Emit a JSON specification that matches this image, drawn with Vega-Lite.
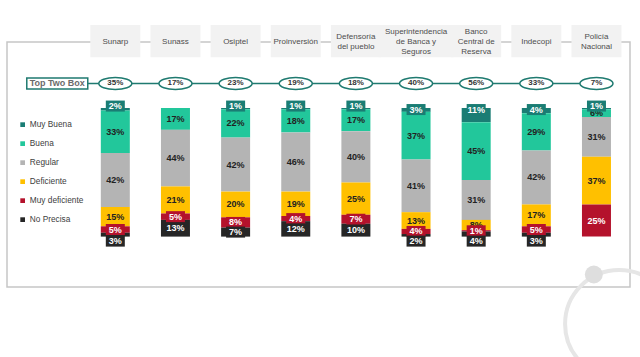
{
  "$schema": "https://vega.github.io/schema/vega-lite/v6.json",
  "width": 623,
  "height": 245,
  "autosize": {"type": "none"},
  "padding": {"left": 7, "top": 42, "right": 10, "bottom": 70},
  "background": "white",
  "config": {
    "view": {"stroke": "#c6c6c6", "strokeWidth": 1.5},
    "font": "Liberation Sans",
    "text": {"font": "Liberation Sans"}
  },
  "datasets": {
    "inst": [
      {"i": 0, "name": "Sunarp", "ttb": 35},
      {"i": 1, "name": "Sunass", "ttb": 17},
      {"i": 2, "name": "Osiptel", "ttb": 23},
      {"i": 3, "name": "Proinversión", "ttb": 19},
      {"i": 4, "name": "Defensoría\ndel pueblo", "ttb": 18},
      {"i": 5, "name": "Superintendencia\nde Banca y\nSeguros", "ttb": 40},
      {"i": 6, "name": "Banco\nCentral de\nReserva", "ttb": 56},
      {"i": 7, "name": "Indecopi", "ttb": 33},
      {"i": 8, "name": "Policía\nNacional", "ttb": 7}
    ],
    "seg": [
      {"i": 0, "cat": "Muy Buena", "v": 2}, {"i": 0, "cat": "Buena", "v": 33}, {"i": 0, "cat": "Regular", "v": 42}, {"i": 0, "cat": "Deficiente", "v": 15}, {"i": 0, "cat": "Muy deficiente", "v": 5}, {"i": 0, "cat": "No Precisa", "v": 3},
      {"i": 1, "cat": "Buena", "v": 17}, {"i": 1, "cat": "Regular", "v": 44}, {"i": 1, "cat": "Deficiente", "v": 21}, {"i": 1, "cat": "Muy deficiente", "v": 5}, {"i": 1, "cat": "No Precisa", "v": 13},
      {"i": 2, "cat": "Muy Buena", "v": 1}, {"i": 2, "cat": "Buena", "v": 22}, {"i": 2, "cat": "Regular", "v": 42}, {"i": 2, "cat": "Deficiente", "v": 20}, {"i": 2, "cat": "Muy deficiente", "v": 8}, {"i": 2, "cat": "No Precisa", "v": 7},
      {"i": 3, "cat": "Muy Buena", "v": 1}, {"i": 3, "cat": "Buena", "v": 18}, {"i": 3, "cat": "Regular", "v": 46}, {"i": 3, "cat": "Deficiente", "v": 19}, {"i": 3, "cat": "Muy deficiente", "v": 4}, {"i": 3, "cat": "No Precisa", "v": 12},
      {"i": 4, "cat": "Muy Buena", "v": 1}, {"i": 4, "cat": "Buena", "v": 17}, {"i": 4, "cat": "Regular", "v": 40}, {"i": 4, "cat": "Deficiente", "v": 25}, {"i": 4, "cat": "Muy deficiente", "v": 7}, {"i": 4, "cat": "No Precisa", "v": 10},
      {"i": 5, "cat": "Muy Buena", "v": 3}, {"i": 5, "cat": "Buena", "v": 37}, {"i": 5, "cat": "Regular", "v": 41}, {"i": 5, "cat": "Deficiente", "v": 13}, {"i": 5, "cat": "Muy deficiente", "v": 4}, {"i": 5, "cat": "No Precisa", "v": 2},
      {"i": 6, "cat": "Muy Buena", "v": 11}, {"i": 6, "cat": "Buena", "v": 45}, {"i": 6, "cat": "Regular", "v": 31}, {"i": 6, "cat": "Deficiente", "v": 8}, {"i": 6, "cat": "Muy deficiente", "v": 1}, {"i": 6, "cat": "No Precisa", "v": 4},
      {"i": 7, "cat": "Muy Buena", "v": 4}, {"i": 7, "cat": "Buena", "v": 29}, {"i": 7, "cat": "Regular", "v": 42}, {"i": 7, "cat": "Deficiente", "v": 17}, {"i": 7, "cat": "Muy deficiente", "v": 5}, {"i": 7, "cat": "No Precisa", "v": 3},
      {"i": 8, "cat": "Muy Buena", "v": 1}, {"i": 8, "cat": "Buena", "v": 6}, {"i": 8, "cat": "Regular", "v": 31}, {"i": 8, "cat": "Deficiente", "v": 37}, {"i": 8, "cat": "Muy deficiente", "v": 25}
    ]
  },
  "layer": [
    {
      "data": {"values": [{}]},
      "mark": {"type": "point", "shape": "circle", "filled": false, "stroke": "#e6e6e6", "strokeWidth": 4, "opacity": 1, "clip": false},
      "encoding": {
        "x": {"datum": 8.376, "type": "quantitative", "scale": {"domain": [-1.7178, 8.4744], "nice": false, "zero": false}, "axis": null},
        "y": {"datum": 167.96, "type": "quantitative", "scale": {"domain": [-51.32, 139.19], "reverse": true, "nice": false, "zero": false}, "axis": null},
        "size": {"value": 11664}
      }
    },
    {
      "data": {"values": [{}]},
      "mark": {"type": "point", "shape": "circle", "filled": true, "color": "#dedede", "opacity": 1, "clip": false},
      "encoding": {
        "x": {"datum": 7.956, "type": "quantitative", "scale": {"domain": [-1.7178, 8.4744], "nice": false, "zero": false}, "axis": null},
        "y": {"datum": 129.47, "type": "quantitative", "scale": {"domain": [-51.32, 139.19], "reverse": true, "nice": false, "zero": false}, "axis": null},
        "size": {"value": 324}
      }
    },
    {
      "data": {"name": "inst"},
      "transform": [{"filter": "datum.i != 5"}],
      "mark": {"type": "bar", "size": 50, "color": "#f2f2f2", "clip": false},
      "encoding": {
        "x": {"field": "i", "type": "quantitative", "scale": {"domain": [-1.7178, 8.4744], "nice": false, "zero": false}, "axis": null},
        "y": {"datum": -64.5, "type": "quantitative", "scale": {"domain": [-51.32, 139.19], "reverse": true, "nice": false, "zero": false}, "axis": null},
        "y2": {"datum": -39.5}
      }
    },
    {
      "data": {"name": "inst"},
      "transform": [{"filter": "datum.i == 5"}],
      "mark": {"type": "bar", "size": 75, "color": "#f2f2f2", "clip": false},
      "encoding": {
        "x": {"field": "i", "type": "quantitative", "scale": {"domain": [-1.7178, 8.4744], "nice": false, "zero": false}, "axis": null},
        "y": {"datum": -64.5, "type": "quantitative", "scale": {"domain": [-51.32, 139.19], "reverse": true, "nice": false, "zero": false}, "axis": null},
        "y2": {"datum": -39.5}
      }
    },
    {
      "data": {"name": "inst"},
      "transform": [{"calculate": "-51.3 - (length(split(datum.name, '\\n')) - 1) * 3.75", "as": "hy"}],
      "mark": {"type": "text", "fontSize": 8, "font": "Liberation Sans", "color": "#4d4d4d", "lineBreak": "\n", "lineHeight": 9.6, "align": "center", "baseline": "middle", "clip": false},
      "encoding": {
        "x": {"field": "i", "type": "quantitative", "scale": {"domain": [-1.7178, 8.4744], "nice": false, "zero": false}, "axis": null},
        "y": {"field": "hy", "type": "quantitative", "scale": {"domain": [-51.32, 139.19], "reverse": true, "nice": false, "zero": false}, "axis": null},
        "text": {"field": "name"}
      }
    },
    {
      "data": {"values": [{}]},
      "mark": {"type": "rule", "color": "#1f7a70", "strokeWidth": 1.5},
      "encoding": {
        "x": {"datum": -0.458, "type": "quantitative", "scale": {"domain": [-1.7178, 8.4744], "nice": false, "zero": false}, "axis": null},
        "x2": {"datum": 8},
        "y": {"datum": -19.05, "type": "quantitative", "scale": {"domain": [-51.32, 139.19], "reverse": true, "nice": false, "zero": false}, "axis": null}
      }
    },
    {
      "data": {"values": [{}]},
      "mark": {"type": "rect", "fill": "white", "stroke": "#1f7a70", "strokeWidth": 1.5},
      "encoding": {
        "x": {"datum": -1.472, "type": "quantitative", "scale": {"domain": [-1.7178, 8.4744], "nice": false, "zero": false}, "axis": null},
        "x2": {"datum": -0.458},
        "y": {"datum": -23.33, "type": "quantitative", "scale": {"domain": [-51.32, 139.19], "reverse": true, "nice": false, "zero": false}, "axis": null},
        "y2": {"datum": -14.77}
      }
    },
    {
      "data": {"values": [{"t": "Top Two Box"}]},
      "mark": {"type": "text", "fontSize": 9, "fontWeight": "bold", "font": "Liberation Sans", "color": "#6b6b6b", "align": "center", "baseline": "middle"},
      "encoding": {
        "x": {"datum": -0.965, "type": "quantitative", "scale": {"domain": [-1.7178, 8.4744], "nice": false, "zero": false}, "axis": null},
        "y": {"datum": -19.05, "type": "quantitative", "scale": {"domain": [-51.32, 139.19], "reverse": true, "nice": false, "zero": false}, "axis": null},
        "text": {"field": "t"}
      }
    },
    {
      "data": {"name": "inst"},
      "mark": {"type": "point", "shape": "M-1,0A1,0.36,0,1,1,1,0A1,0.36,0,1,1,-1,0Z", "filled": true, "fill": "white", "stroke": "#1f7a70", "strokeWidth": 1.5, "opacity": 1},
      "encoding": {
        "x": {"field": "i", "type": "quantitative", "scale": {"domain": [-1.7178, 8.4744], "nice": false, "zero": false}, "axis": null},
        "y": {"datum": -19.05, "type": "quantitative", "scale": {"domain": [-51.32, 139.19], "reverse": true, "nice": false, "zero": false}, "axis": null},
        "size": {"value": 1089}
      }
    },
    {
      "data": {"name": "inst"},
      "transform": [{"calculate": "datum.ttb + '%'", "as": "txt"}],
      "mark": {"type": "text", "fontSize": 8, "fontWeight": "bold", "font": "Liberation Sans", "color": "#333333", "align": "center", "baseline": "middle"},
      "encoding": {
        "x": {"field": "i", "type": "quantitative", "scale": {"domain": [-1.7178, 8.4744], "nice": false, "zero": false}, "axis": null},
        "y": {"datum": -19.05, "type": "quantitative", "scale": {"domain": [-51.32, 139.19], "reverse": true, "nice": false, "zero": false}, "axis": null},
        "text": {"field": "txt"}
      }
    },
    {
      "data": {"name": "seg"},
      "transform": [
        {"calculate": "indexof(['Muy Buena','Buena','Regular','Deficiente','Muy deficiente','No Precisa'], datum.cat)", "as": "ord"},
        {"stack": "v", "groupby": ["i"], "sort": [{"field": "ord", "order": "ascending"}], "as": ["y0", "y1"]}
      ],
      "mark": {"type": "bar", "size": 29},
      "encoding": {
        "x": {"field": "i", "type": "quantitative", "scale": {"domain": [-1.7178, 8.4744], "nice": false, "zero": false}, "axis": null},
        "y": {"field": "y0", "type": "quantitative", "scale": {"domain": [-51.32, 139.19], "reverse": true, "nice": false, "zero": false}, "axis": null},
        "y2": {"field": "y1"},
        "color": {
          "field": "cat", "type": "nominal",
          "scale": {"domain": ["Muy Buena", "Buena", "Regular", "Deficiente", "Muy deficiente", "No Precisa"], "range": ["#1a7d74", "#22c79b", "#b4b4b4", "#ffc000", "#b4122c", "#262626"]},
          "legend": {"title": null, "orient": "none", "legendX": 11.5, "legendY": 78.5, "symbolType": "square", "symbolSize": 22, "symbolStrokeWidth": 0, "labelFontSize": 8.3, "labelFont": "Liberation Sans", "labelColor": "#404040", "rowPadding": 10, "labelOffset": 3, "padding": 0}
        }
      }
    },
    {
      "data": {"name": "seg"},
      "transform": [
        {"calculate": "indexof(['Muy Buena','Buena','Regular','Deficiente','Muy deficiente','No Precisa'], datum.cat)", "as": "ord"},
        {"stack": "v", "groupby": ["i"], "sort": [{"field": "ord", "order": "ascending"}], "as": ["y0", "y1"]},
        {"filter": "datum.cat == 'Buena' || datum.cat == 'Regular' || datum.cat == 'Deficiente'"},
        {"calculate": "(datum.y0 + datum.y1) / 2", "as": "mid"},
        {"calculate": "datum.v + '%'", "as": "txt"}
      ],
      "mark": {"type": "text", "fontSize": 9, "fontWeight": "bold", "font": "Liberation Sans", "color": "#222222", "align": "center", "baseline": "middle"},
      "encoding": {
        "x": {"field": "i", "type": "quantitative", "scale": {"domain": [-1.7178, 8.4744], "nice": false, "zero": false}, "axis": null},
        "y": {"field": "mid", "type": "quantitative", "scale": {"domain": [-51.32, 139.19], "reverse": true, "nice": false, "zero": false}, "axis": null},
        "text": {"field": "txt"}
      }
    },
    {
      "data": {"name": "seg"},
      "transform": [
        {"calculate": "indexof(['Muy Buena','Buena','Regular','Deficiente','Muy deficiente','No Precisa'], datum.cat)", "as": "ord"},
        {"stack": "v", "groupby": ["i"], "sort": [{"field": "ord", "order": "ascending"}], "as": ["y0", "y1"]},
        {"filter": "datum.cat == 'Muy Buena' || datum.cat == 'Muy deficiente' || datum.cat == 'No Precisa'"},
        {"calculate": "(datum.y0 + datum.y1) / 2", "as": "mid"},
        {"calculate": "datum.cat == 'Muy Buena' ? (datum.v <= 2 ? -1.5 : 1.2) : (datum.cat == 'No Precisa' && datum.v <= 4 ? datum.y1 + 3.5 : datum.mid)", "as": "lab"}
      ],
      "mark": {"type": "point", "shape": "M-1,-0.58H1V0.58H-1Z", "filled": true, "opacity": 1, "strokeWidth": 0},
      "encoding": {
        "x": {"field": "i", "type": "quantitative", "scale": {"domain": [-1.7178, 8.4744], "nice": false, "zero": false}, "axis": null},
        "y": {"field": "lab", "type": "quantitative", "scale": {"domain": [-51.32, 139.19], "reverse": true, "nice": false, "zero": false}, "axis": null},
        "color": {"field": "cat", "type": "nominal"},
        "size": {"value": 361}
      }
    },
    {
      "data": {"name": "seg"},
      "transform": [
        {"calculate": "indexof(['Muy Buena','Buena','Regular','Deficiente','Muy deficiente','No Precisa'], datum.cat)", "as": "ord"},
        {"stack": "v", "groupby": ["i"], "sort": [{"field": "ord", "order": "ascending"}], "as": ["y0", "y1"]},
        {"filter": "datum.cat == 'Muy Buena' || datum.cat == 'Muy deficiente' || datum.cat == 'No Precisa'"},
        {"calculate": "(datum.y0 + datum.y1) / 2", "as": "mid"},
        {"calculate": "datum.cat == 'Muy Buena' ? (datum.v <= 2 ? -1.5 : 1.2) : (datum.cat == 'No Precisa' && datum.v <= 4 ? datum.y1 + 3.5 : datum.mid)", "as": "lab"},
        {"calculate": "datum.v + '%'", "as": "txt"}
      ],
      "mark": {"type": "text", "fontSize": 9, "fontWeight": "bold", "font": "Liberation Sans", "color": "white", "align": "center", "baseline": "middle"},
      "encoding": {
        "x": {"field": "i", "type": "quantitative", "scale": {"domain": [-1.7178, 8.4744], "nice": false, "zero": false}, "axis": null},
        "y": {"field": "lab", "type": "quantitative", "scale": {"domain": [-51.32, 139.19], "reverse": true, "nice": false, "zero": false}, "axis": null},
        "text": {"field": "txt"}
      }
    }
  ]
}
